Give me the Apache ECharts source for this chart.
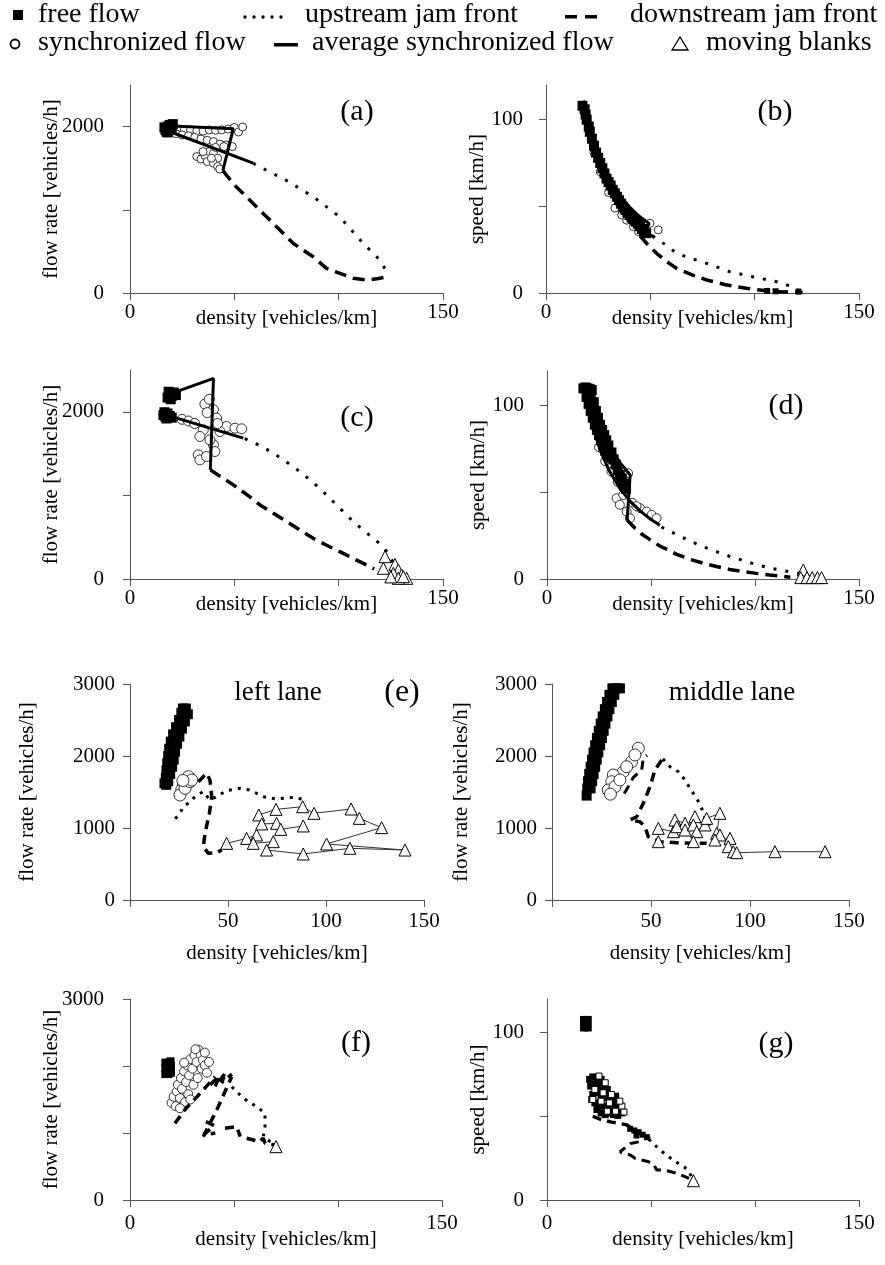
<!DOCTYPE html>
<html><head><meta charset="utf-8">
<script src="https://cdn.jsdelivr.net/npm/echarts/dist/echarts.min.js"></script>
<style>html,body{margin:0;padding:0;background:#fff}#c{width:885px;height:1265px}</style>
</head><body><div id="c"></div><script>
// ---------- data: panel (a) flow-density ----------
const aFree = [[17,1960],[18,2000],[19,2020],[17.5,1940],[19,1960],[20,1990],[18,1930],[16.5,1990],[20.5,2030]];
const aSync = [[23,1965],[26,1955],[29,1960],[32,1950],[35,1945],[38,1960],[41,1955],[44,1960],[47,1970],[50,1990],[52,1935],[54,1995],[22,1915],[25,1900],[28,1890],[31,1870],[34,1850],[37,1835],[40,1820],[43,1790],[46,1780],[49,1760],[32,1640],[34,1610],[36,1650],[38,1700],[40,1680],[42,1620],[37,1580],[40,1560],[42,1520],[43,1490],[45,1760],[35,1700],[39,1620],[41,1750]];
const aAvg1 = [[18,2010],[49.5,1975],[44.5,1470]];
const aAvg2 = [[18,1950],[59,1560]];
const aUp = [[59,1560],[64,1493],[75,1353],[88,1154],[100.6,914],[111.8,595],[119.8,395],[122.5,280],[123,195]];
const aDown = [[44.5,1470],[50,1300],[57.5,1114],[68.7,835],[78.3,595],[87.8,435],[94.2,296],[100.6,236],[107,176],[113.4,156],[118.2,170],[123,195]];
// ---------- panel (b) speed-density ----------
const bFree = [[17.5,108],[18.5,106],[19,103],[19.5,100],[20.5,96],[21,93],[22,89],[23,85],[24,81],[25,78],[26,75],[27,72],[28,69],[29,66],[30,64],[31,62],[32,59.5],[33,57.5],[34,55.5],[35,53.5],[36,51.5],[37,49.5],[38,48],[39,46.5],[40,45],[41,43.5],[42,42.5],[43,41.2],[44,40],[45,38.5],[46,37],[47,35.5],[48,34.5]];
const bSync = [[33,49],[36.3,45],[38.7,42],[41.9,38.3],[44.3,35.4],[49.8,40.2],[53.8,36.4],[46,36],[47.5,38.5],[30,58],[26,70],[23,81]];
const bAvg1 = [[18,111],[22,90],[26,76],[30,66],[35,57],[40,49.5],[45,44],[49.5,40],[45,33]];
const bAvg2 = [[18,108],[22,87],[26,72],[30,61.5],[35,51.5],[40,44],[45,38],[50,33.5],[52,32]];
const bUp = [[51,33],[57,28],[62.6,22.9],[70,19.8],[77,17.1],[88,12.3],[99,9.4],[110.5,6.5],[117,4],[121,1.5]];
const bDown = [[45,33],[48.2,28.7],[53,22.9],[58,18],[62.6,14.2],[70,10.5],[77,7.5],[86,4.8],[96,2.7],[109,0.8],[123,0.3]];
const bEnd = [[106,1.2],[110,1],[121,0.8]];
// ---------- panel (c) ----------
const cFree = [[18,2170],[19,2210],[20,2190],[21,2230],[19.5,2150],[18.5,2240],[22,2200],[16,1960],[17,1940],[18,1980],[19,1950],[17.5,1920],[16.5,1995],[20,1930]];
const cSync = [[35.9,2092],[40,2024],[41.5,1924],[46.3,1824],[50.3,1804],[53.5,1796],[43.1,1764],[35.1,1784],[33.5,1705],[40,1605],[40.7,1525],[32.7,1485],[33.5,1425],[36.7,1465],[38.3,1665],[25,1910],[28,1890],[31,1860],[38,2150],[42,1860],[37,1990]];
const cAvg1 = [[21,2230],[40,2400],[38.5,1305]];
const cAvg2 = [[18.4,1955],[54.3,1685]];
const cUp = [[55,1680],[62,1600],[68.7,1505],[75,1400],[81.5,1285],[88,1150],[94.2,1006],[100,860],[107,686],[112,580],[116.6,487],[121.4,387],[124.6,267],[127,150]];
const cDown = [[38.5,1305],[44,1215],[49.5,1126],[56,1010],[62.3,886],[68.7,786],[75.1,686],[81.5,586],[87.8,487],[94,407],[100.6,327],[107,245],[113.4,168],[117,120]];
const cBlanks = [[122.2,267],[127,175],[121.4,128],[128.6,108],[126.2,68],[130.2,48],[132.6,8],[128.6,8],[131,28],[125,25]];
// ---------- panel (d) ----------
const dFree = [[17.5,110],[18.5,110.5],[19.5,110],[20.5,109.5],[21.5,109],[19,105],[20,101],[21,97],[22,93],[23,89],[24,86],[25,83],[26,80],[27,77],[28,74],[29,72],[30,70],[21,106],[22.5,102],[23.5,97],[24.5,93],[25.5,89],[26.5,86],[27.5,83],[28.5,80],[29.5,77],[31,73],[32,69],[33,66],[34,63],[35,60],[36,58],[37,55],[38,52]];
const dSync = [[39,61],[33.5,46.6],[35,42.8],[38.3,38.9],[44.7,40.9],[47.9,38.9],[50.3,37],[52.7,35.1],[36.7,48.5],[39.9,35],[37,52],[34,56],[31,62],[28,68],[25,76],[41,44],[43,42]];
const dAvg1 = [[21,106],[25,90.6],[30,77],[35,67.3],[40,60],[38.5,34]];
const dAvg2 = [[18.4,106],[22,87.6],[26,73],[30,62.3],[35,52.3],[40,44.8],[45,39],[50,34.3],[54.3,31]];
const dUp = [[55,30],[62,25.8],[68.7,21.9],[75,18.7],[81.5,15.8],[88,13],[94.2,10.7],[100,8.5],[107,6.4],[112,5.2],[116.6,4.2],[121.4,3.2],[124.6,2.1]];
const dDown = [[38.5,34],[42.3,29.3],[46,25.5],[49.5,22.7],[54.3,19],[58,17],[62.3,14.2],[68.7,11.4],[75.1,9.1],[81.5,7.2],[87.8,5.5],[94,4.3],[100.6,3.25],[107,2.3],[113.4,1.5],[117,1]];
const dBlanks = [[123.2,5.2],[122,0.8],[125,0.8],[127.5,0.8],[130,0.8],[132,0.8]];
// ---------- panel (e) left lane ----------
const eFree = [[17.6,1620],[18.3,1700],[18.6,1800],[19,1900],[19.5,2000],[20,2100],[20.8,2200],[22,2300],[23.5,2400],[25,2500],[26.2,2600],[27,2660],[28.5,2660],[29.5,2580],[28,2480],[26.5,2380],[25.2,2270],[24,2170],[23,2060],[22.3,1950],[21.5,1850],[20.5,1750],[19.5,1650],[18.5,1600],[21,2050],[22,2150],[23.5,2300],[20,1850]];
const eSync = [[29.8,1713],[27.2,1597],[26.4,1528],[25.5,1458],[28.1,1551],[30.6,1643],[31.5,1667],[27,1660]];
const eUp = [[23,1130],[25,1180],[27.2,1296],[30,1350],[32.3,1412],[35,1470],[37.4,1505],[40.8,1389],[44.2,1435],[49.3,1519],[56.1,1551],[61.2,1528],[68,1435],[74.8,1403],[83.3,1426],[88.4,1398],[90.1,1366]];
const eDown = [[34.9,1643],[39.1,1759],[40.8,1667],[41.7,1435],[40.5,1204],[38.3,926],[37.4,741],[40,648],[44.2,657],[46.8,694]];
const eBlanks = [[49.3,787],[59.5,856],[64.6,903],[62.9,787],[73.1,810],[69.7,694],[88.4,639],[112.2,718],[140.3,694],[100.3,778],[128.4,1005],[117,1134],[112.8,1264],[93.9,1204],[88.1,1296],[74.5,1259],[65.7,1181],[67.2,1056],[74.8,1065],[76.9,981],[88.4,1028]];
// ---------- middle lane ----------
const mFree = [[17.5,1450],[17.8,1550],[18.2,1650],[18.8,1750],[19.5,1850],[20.2,1950],[21,2050],[21.8,2150],[22.7,2250],[23.6,2350],[24.6,2450],[25.6,2550],[26.7,2650],[27.8,2750],[29,2850],[30.5,2940],[19.5,1550],[20.3,1650],[21,1750],[21.8,1850],[22.6,1950],[23.4,2050],[24.3,2150],[25.2,2250],[26.1,2350],[27,2450],[28,2550],[29,2650],[30.2,2750],[31.5,2850],[32.5,2940],[34.3,2940]];
const mSync = [[43.6,2107],[40.2,1921],[36,1782],[31,1736],[30.2,1643],[28.4,1528],[31.8,1574],[34.3,1667],[37.7,1851],[41.9,2014],[29.5,1470]];
const mUp = [[56,1960],[59.6,1851],[63.8,1782],[67.2,1667],[69.7,1551],[73.1,1412],[75.6,1273],[77.3,1134],[80,1040]];
const mDown = [[55.4,1944],[52,1806],[49.5,1574],[46.1,1343],[42.8,1157],[39.4,1111],[44.4,1088],[47,1018],[48.6,880],[54.5,810],[63,796],[71.4,787],[78.1,787]];
const mDown2 = [[36.5,1480],[38.5,1574],[41,1700],[45.3,1806],[46.1,1968],[48,2010]];
const mBlanks = [[53.7,995],[61.3,949],[62.1,1111],[67.2,1065],[63,1018],[67.2,972],[72.2,1157],[71.4,1042],[73.1,949],[77.3,1042],[78.1,1134],[84.8,1204],[83.2,926],[84.8,903],[82.3,833],[89.9,856],[89,741],[91.6,671],[93.3,657],[112.6,671],[137.9,671]];
const mBlanks2 = [[53.7,810],[71.4,810]];
// ---------- panel (f) ----------
const fFree = [[17,1880],[17,1960],[17,2050],[18.5,1880],[18.5,1960],[18.5,2050],[19.7,1900],[19.7,2000],[19.5,2070]];
const fSync = [[20,1450],[21,1540],[22,1400],[22.5,1620],[23,1720],[24,1520],[24.5,1820],[25,1660],[26,1920],[26.5,1460],[27,1760],[27.5,2010],[28,1580],[28.5,1860],[29,2100],[30,1960],[30.5,1720],[31,2160],[32,2060],[32.5,1820],[33,2240],[34,2170],[34.5,1960],[35,2090],[36,2010],[36,2200],[37,1900],[38,2060],[24,1370],[29,1500],[31.5,2250],[26,2050]];
const fDown1 = [[21.6,1144],[27,1370],[33.7,1592],[40.9,1840]];
const fDown2 = [[35.2,945],[41.7,1343],[48.9,1840]];
const fDown3 = [[38.5,1720],[43,1850],[41,1700],[46,1900],[44,1750],[49,1880]];
const fDown4 = [[36.5,1170],[40.5,1110],[35.5,975],[41,1000]];
const fDown5 = [[45.7,1070],[51.3,1094],[53,945]];
const fDown6 = [[56.1,921],[62.5,870],[64,921],[65,846],[69.7,821]];
const fUp = [[48.9,1691],[54.5,1518],[60.9,1393],[64.9,1294],[64.9,1094],[64.1,945],[69.7,821]];
const fBlanks = [[70.2,796]];
// ---------- panel (g) ----------
const gFree = [[17.8,103],[17.8,107.5],[19.6,103],[19.6,107.5],[18.7,105]];
const gBlack = [[20.5,72],[22,73.5],[24,73],[26,72],[21,68],[23,69],[25,68],[27,67],[29,66],[22,63],[24,64],[26,62],[28,61],[30,62],[32,60],[23,58],[25,57],[27,56],[29,56],[31,55],[33,56],[35,54],[26,52],[28,51],[30,52],[32,51],[34,50.5],[36,52],[24,54],[31,59],[34,58],[21.5,60],[33,62]];
const gWhite = [[25,74],[28,70],[23,66],[27,64],[31,63],[26,59],[30,58],[33,53],[36,56],[37,52.5],[22,60],[29,53],[35,59]];
const gDark = [[40,42.5],[42,41.5],[44,40.5],[46,39],[48,37.5],[43,38.5]];
const gDown1 = [[22,50],[26,48],[31,46.5],[38,45],[42,42],[46,39],[49.5,36.7]];
const gDown2 = [[44.1,34.7],[40.1,33.7],[35.1,28.8],[40.1,26.8],[42.5,24.8],[48.9,22.8],[51.1,21.8],[52.7,17.9],[56.1,17.9],[62.6,15.9],[68.3,12.9]];
const gUp = [[38,45],[44,41],[49.5,35.7],[54.3,29.8],[60.7,23.8],[67.1,18.8],[69.6,13.9]];
const gBlanks = [[70.4,11.5]];

// ---------- axis tick / label values ----------
const xTicks = [0,50,100,150];
const xLabelsEnds = [0,150];
const xLabelsLane = [50,100,150];
const flowTicks25 = [0,1000,2000];
const flowLabels25 = [0,2000];
const flowTicks30 = [0,1000,2000,3000];
const flowLabelsF = [0,3000];
const speedTicks = [0,50,100];
const speedLabels = [0,100];

const FONT = '"Liberation Serif", "Times New Roman", serif';
const AX = '#555';
const grids = [
  {left:130, top:85,  width:313, height:208},
  {left:546, top:85,  width:313, height:208},
  {left:130, top:370, width:313, height:209},
  {left:547, top:371, width:312, height:208},
  {left:130, top:684, width:294, height:216},
  {left:552, top:684, width:297, height:216},
  {left:130, top:999, width:312, height:201},
  {left:547, top:999, width:312, height:201}
];
const nameStyle = {fontFamily:FONT, fontSize:21, color:'#000'};
const plain = v => String(v);
function xAxis(i, labels, margin, gap){
  return {type:'value', gridIndex:i, min:0, max:150,
    axisLine:{onZero:false, lineStyle:{color:AX, width:1}},
    axisTick:{customValues:xTicks, length:7, lineStyle:{color:AX}},
    axisLabel:{customValues:labels, formatter:plain, color:'#000', fontFamily:FONT, fontSize:21, margin:margin},
    splitLine:{show:false},
    name:'density [vehicles/km]', nameLocation:'middle', nameGap:gap, nameMoveOverlap:false, nameTextStyle:nameStyle};
}
function yAxis(i, max, ticks, labels, name, margin, gap){
  return {type:'value', gridIndex:i, min:0, max:max,
    axisLine:{onZero:false, lineStyle:{color:AX, width:1}},
    axisTick:{customValues:ticks, length:7, lineStyle:{color:AX}},
    axisLabel:{customValues:labels, formatter:plain, color:'#000', fontFamily:FONT, fontSize:21, margin:margin},
    splitLine:{show:false},
    name:name, nameLocation:'middle', nameGap:gap, nameMoveOverlap:false, nameTextStyle:nameStyle};
}
const FR = 'flow rate [vehicles/h]', SP = 'speed [km/h]';
const xAxes = [
  xAxis(0,xLabelsEnds,9,15), xAxis(1,xLabelsEnds,9,15), xAxis(2,xLabelsEnds,9,15), xAxis(3,xLabelsEnds,9,15),
  xAxis(4,xLabelsLane,11,43), xAxis(5,xLabelsLane,11,43), xAxis(6,xLabelsEnds,13,29), xAxis(7,xLabelsEnds,13,29)
];
const yAxes = [
  yAxis(0,2500,flowTicks25,flowLabels25,FR,26,68),
  yAxis(1,120,speedTicks,speedLabels,SP,23,58),
  yAxis(2,2500,flowTicks25,flowLabels25,FR,26,68),
  yAxis(3,120,speedTicks,speedLabels,SP,23,58),
  yAxis(4,3000,flowTicks30,flowTicks30,FR,15,92),
  yAxis(5,3000,flowTicks30,flowTicks30,FR,15,80),
  yAxis(6,3000,flowTicks30,flowLabelsF,FR,26,68),
  yAxis(7,120,speedTicks,speedLabels,SP,23,58)
];

const series = [];
function ln(i, data, width, dash, color){
  series.push({type:'line', xAxisIndex:i, yAxisIndex:i, data:data, symbol:'none', silent:true,
    lineStyle:{color:color||'#000', width:width, type:dash||'solid', cap:'butt'}, z:3});
}
function sc(i, data, sym, size, fill, stroke, bw, z){
  series.push({type:'scatter', xAxisIndex:i, yAxisIndex:i, data:data, symbol:sym, symbolSize:size, silent:true,
    itemStyle:{color:fill, borderColor:stroke, borderWidth:bw, opacity:1}, z:z});
}
function blanksPath(i, data){
  series.push({type:'line', xAxisIndex:i, yAxisIndex:i, data:data, symbol:'triangle', symbolSize:12, showSymbol:true, silent:true,
    lineStyle:{color:'#333', width:1}, itemStyle:{color:'#fff', borderColor:'#000', borderWidth:1}, z:5});
}
const DOT = [3,9], DASH = [12,7], DOT2 = [3,6], DASH2 = [9,6];
// (a)
sc(0,aSync,'circle',8,'#fff','#333',1,2);
ln(0,aAvg1,3); ln(0,aAvg2,3); ln(0,aUp,3,DOT); ln(0,aDown,3.5,DASH);
sc(0,aFree,'rect',10,'#000','#000',0,6);
// (b)
sc(1,bSync,'circle',8,'#fff','#333',1,2);
sc(1,bFree,'rect',10,'#000','#000',0,4);
ln(1,bAvg1,3); ln(1,bAvg2,3); ln(1,bUp,3,DOT); ln(1,bDown,3.5,DASH);
sc(1,bEnd,'rect',6,'#000','#000',0,4);
// (c)
sc(2,cSync,'circle',10,'#fff','#333',1,2);
ln(2,cAvg1,3); ln(2,cAvg2,3); ln(2,cUp,3,DOT); ln(2,cDown,3.5,DASH);
sc(2,cBlanks,'triangle',12,'#fff','#000',1,5);
sc(2,cFree,'rect',10,'#000','#000',0,6);
// (d)
sc(3,dSync,'circle',9,'#fff','#333',1,2);
sc(3,dFree,'rect',10,'#000','#000',0,4);
ln(3,dAvg1,3); ln(3,dAvg2,3); ln(3,dUp,3,DOT); ln(3,dDown,3.5,DASH);
sc(3,dBlanks,'triangle',12,'#fff','#000',1,5);
// (e)
ln(4,eUp,3,DOT2); ln(4,eDown,3.5,DASH2);
blanksPath(4,eBlanks);
sc(4,eSync,'circle',12,'#fff','#333',1,4);
sc(4,eFree,'rect',10,'#000','#000',0,6);
// middle lane
ln(5,mUp,3,DOT2); ln(5,mDown,3.5,DASH2); ln(5,mDown2,3,DASH2);
blanksPath(5,mBlanks);
sc(5,mBlanks2,'triangle',12,'#fff','#000',1,5);
sc(5,mSync,'circle',12,'#fff','#333',1,4);
sc(5,mFree,'rect',10,'#000','#000',0,6);
// (f)
sc(6,fSync,'circle',9,'#fff','#333',1,2);
[fDown1,fDown2,fDown3,fDown4,fDown5,fDown6].forEach(d=>ln(6,d,3.5,DASH2));
ln(6,fUp,3,DOT2);
sc(6,fBlanks,'triangle',12,'#fff','#000',1,5);
sc(6,fFree,'rect',8,'#000','#000',0,6);
// (g)
sc(7,gBlack,'rect',7,'#000','#000',0,2);
sc(7,gWhite,'rect',6,'#fff','#000',1,3);
sc(7,gDark,'rect',6,'#000','#000',0,3);
ln(7,gDown1,3.5,DASH2); ln(7,gDown2,3,DASH2); ln(7,gUp,3,DOT2);
sc(7,gBlanks,'triangle',12,'#fff','#000',1,5);
sc(7,gFree,'rect',8,'#000','#000',0,6);

// ---------- graphic: panel labels + legend ----------
function txt(x,y,t,size,align){
  return {type:'text', x:x, y:y, silent:true, style:{text:t, font:size+'px '+FONT, fill:'#000', align:align||'center', verticalAlign:'middle'}};
}
const LG = 28;
const dots = [245,254,263,272,281].map(cx => ({type:'circle', shape:{cx:cx,cy:17,r:1.7}, style:{fill:'#000'}}));
const graphic = [
  txt(357,112,'(a)',30), txt(775,112,'(b)',30), txt(357,418,'(c)',30), txt(786,406,'(d)',30),
  txt(402,693,'(e)',32), txt(278,693,'left lane',27), txt(732,693,'middle lane',27),
  txt(356,1043,'(f)',30), txt(776,1044,'(g)',30),
  // legend row 1
  {type:'rect', shape:{x:13,y:10,width:10,height:10}, style:{fill:'#000'}},
  txt(38,15,'free flow',LG,'left'),
  ...dots,
  txt(305,15,'upstream jam front',LG,'left'),
  {type:'rect', shape:{x:565,y:15,width:12,height:3.5}, style:{fill:'#000'}},
  {type:'rect', shape:{x:585,y:15,width:12,height:3.5}, style:{fill:'#000'}},
  txt(630,15,'downstream jam front',LG,'left'),
  // legend row 2
  {type:'circle', shape:{cx:15,cy:44,r:4.5}, style:{fill:'#fff', stroke:'#000', lineWidth:1.8}},
  txt(38,43,'synchronized flow',LG,'left'),
  {type:'rect', shape:{x:274,y:43,width:24,height:3.5}, style:{fill:'#000'}},
  txt(312,43,'average synchronized flow',LG,'left'),
  {type:'polygon', shape:{points:[[672,50],[688,50],[680,37]]}, style:{fill:'#fff', stroke:'#000', lineWidth:1.3}},
  txt(706,43,'moving blanks',LG,'left')
];

const chart = echarts.init(document.getElementById('c'), null, {renderer:'canvas'});
chart.setOption({
  animation:false,
  backgroundColor:'#fff',
  grid:grids,
  xAxis:xAxes,
  yAxis:yAxes,
  series:series,
  graphic:graphic
});
</script></body></html>
